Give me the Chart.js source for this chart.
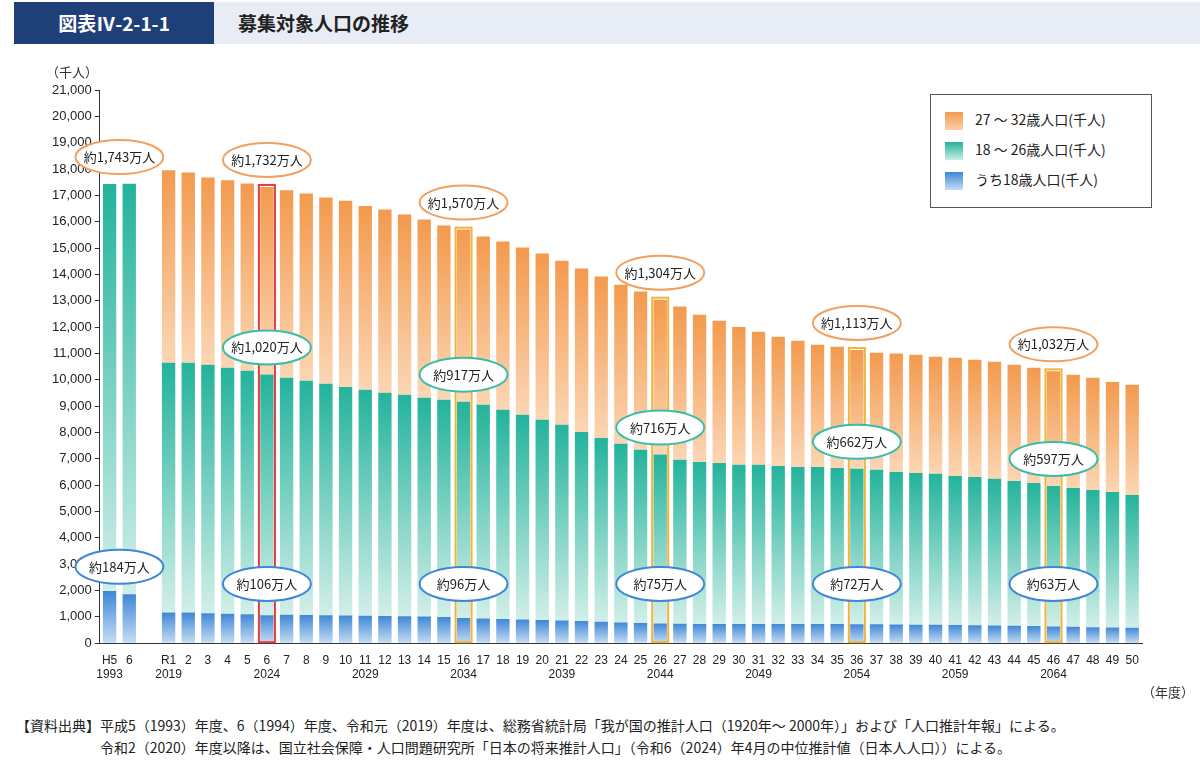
<!DOCTYPE html>
<html><head><meta charset="utf-8">
<script src="https://cdn.jsdelivr.net/npm/chart.js@4"></script>
<style>
body{margin:0;width:1200px;height:777px;background:#fff;font-family:"Noto Sans CJK JP","Noto Sans",sans-serif;position:relative;overflow:hidden}
#hdr{position:absolute;left:14px;top:2px;width:1186px;height:42px;background:#e8edf5}
#hdr .n{position:absolute;left:0;top:0;width:200px;height:42px;background:#1f3f78;color:#fff;font-weight:bold;font-size:19px;line-height:42px;text-align:center}
#hdr .t{position:absolute;left:224px;top:0;line-height:42px;font-size:19px;color:#222;font-weight:bold}
#wrap{position:absolute;left:0;top:60px;width:1200px;height:624px}
#unit{position:absolute;left:46px;top:62px;font-size:13px;color:#333}
#yr{position:absolute;left:1142px;top:682px;font-size:13px;color:#333}
#legend{position:absolute;left:930px;top:94px;width:220px;height:112px;border:1px solid #555;background:#fff;font-size:14px;color:#222}
#legend div{position:absolute;left:14px;height:20px;line-height:20px}
#legend span{display:inline-block;width:18px;height:18px;vertical-align:middle;margin-right:12px}
#foot{position:absolute;left:16px;top:714px;font-size:14px;color:#222;line-height:22px}
</style></head><body>
<div id="hdr"><div class="n">図表Ⅳ-2-1-1</div><div class="t">募集対象人口の推移</div></div>
<div id="wrap"><canvas id="c"></canvas></div>
<div id="unit">（千人）</div>
<div id="yr">（年度）</div>
<div id="legend">
<div style="top:14px"><span style="background:linear-gradient(#f39a4e,#fbd0a8)"></span>27 ～ 32歳人口(千人)</div>
<div style="top:44px"><span style="background:linear-gradient(#23b39b,#c9ece4)"></span>18 ～ 26歳人口(千人)</div>
<div style="top:74px"><span style="background:linear-gradient(#3f87d6,#c5ddf4)"></span>うち18歳人口(千人)</div>
</div>
<div id="foot">【資料出典】平成5（1993）年度、6（1994）年度、令和元（2019）年度は、総務省統計局「我が国の推計人口（1920年～ 2000年）」および「人口推計年報」による。<br>　　　　　　令和2（2020）年度以降は、国立社会保障・人口問題研究所「日本の将来推計人口」（令和6（2024）年4月の中位推計値（日本人人口））による。</div>
<script>
const categories = ['H5','6','','R1','2','3','4','5','6','7','8','9','10','11','12','13','14','15','16','17','18','19','20','21','22','23','24','25','26','27','28','29','30','31','32','33','34','35','36','37','38','39','40','41','42','43','44','45','46','47','48','49','50'];
const yearLabels = ['1993','','','2019','','','','','2024','','','','','2029','','','','','2034','','','','','2039','','','','','2044','','','','','2049','','','','','2054','','','','','2059','','','','','2064','','','',''];
const age27to32Total = [null,null,null,17950,17870,17680,17570,17450,17320,17190,17070,16920,16800,16600,16460,16270,16080,15860,15700,15440,15250,15020,14790,14520,14220,13920,13610,13350,13040,12780,12470,12240,12000,11820,11630,11480,11330,11250,11130,11030,11000,10950,10870,10840,10760,10680,10570,10460,10320,10190,10080,9920,9810];
const age18to26 = [17430,17440,null,10650,10650,10570,10460,10340,10200,10080,9960,9850,9730,9620,9510,9430,9320,9240,9170,9050,8860,8670,8480,8290,8020,7790,7570,7340,7160,6960,6880,6840,6770,6770,6730,6690,6690,6650,6620,6580,6500,6460,6430,6350,6310,6240,6160,6080,5970,5890,5820,5740,5630];
const age18 = [1980,1860,null,1170,1170,1140,1120,1100,1060,1080,1070,1060,1050,1040,1030,1020,1010,990,960,940,920,900,880,860,840,810,790,770,750,740,730,730,730,730,730,730,730,730,720,720,710,700,700,690,680,670,660,650,630,620,610,600,590];
const yTicks = [0,1000,2000,3000,4000,5000,6000,7000,8000,9000,10000,11000,12000,13000,14000,15000,16000,17000,18000,19000,20000,21000];
const topNotes = [[0.5,'約1,743万人',17430],[8,'約1,732万人',17320],[18,'約1,570万人',15700],[28,'約1,304万人',13040],[38,'約1,113万人',11130],[48,'約1,032万人',10320]];
const midNotes = [[8,'約1,020万人',10200],[18,'約917万人',9170],[28,'約716万人',7160],[38,'約662万人',6620],[48,'約597万人',5970]];
const lowNotes = [[0.5,'約184万人'],[8,'約106万人'],[18,'約96万人'],[28,'約75万人'],[38,'約72万人'],[48,'約63万人']];
const highlight = [[8,'#e83a3a'],[18,'#f0b43a'],[28,'#f0b43a'],[38,'#f0b43a'],[48,'#f0b43a']];

const green = age18to26.map((v,i)=>v==null?null:v-age18[i]);
const orange = age27to32Total.map((v,i)=>v==null?null:v-age18to26[i]);
function grad(top,bot,stackBase){
  return ctx=>{
    const ch=ctx.chart, y=ch.scales.y;
    if(!y||ctx.dataIndex==null) return top;
    const i=ctx.dataIndex, base=stackBase[i]||0, val=ctx.raw;
    if(val==null) return top;
    const y0=y.getPixelForValue(base), y1=y.getPixelForValue(base+val);
    if(!isFinite(y0)||!isFinite(y1)||y0===y1) return top;
    const g=ch.ctx.createLinearGradient(0,y1,0,y0);
    g.addColorStop(0,top);g.addColorStop(1,bot);return g;
  };
}
const baseZero=age18.map(()=>0);
const notes={id:'notes',afterDatasetsDraw(ch){
  const c=ch.ctx,x=ch.scales.x,y=ch.scales.y;
  const xp=i=>Number.isInteger(i)?x.getPixelForValue(i):(x.getPixelForValue(Math.floor(i))+x.getPixelForValue(Math.ceil(i)))/2;
  c.save();
  highlight.forEach(([i,col])=>{const px=xp(i);c.strokeStyle=col;c.lineWidth=2;c.strokeRect(px-8,y.getPixelForValue(age27to32Total[i])-2,16,y.getPixelForValue(0)-y.getPixelForValue(age27to32Total[i])+1);});
  function ell(px,py,t,col){c.beginPath();c.ellipse(px,py,44,17,0,0,Math.PI*2);c.fillStyle='#fff';c.fill();c.lineWidth=2;c.strokeStyle=col;c.stroke();c.fillStyle='#222';c.font='13px "Noto Sans CJK JP"';c.textAlign='center';c.textBaseline='middle';c.fillText(t,px,py);}
  topNotes.forEach(([i,t,v])=>ell(xp(i),y.getPixelForValue(v)-27,t,'#f0a060'));
  midNotes.forEach(([i,t,v])=>ell(xp(i),y.getPixelForValue(v)-27,t,'#3cbca6'));
  lowNotes.forEach(([i,t])=>ell(xp(i),y.getPixelForValue(i===0.5?2900:2250),t,'#3f87d6'));
  c.restore();
}};
new Chart(document.getElementById('c'),{type:'bar',
 data:{labels:categories.map((c,i)=>[c,yearLabels[i]]),datasets:[
  {label:'うち18歳',data:age18,backgroundColor:grad('#3f87d6','#c5ddf4',baseZero)},
  {label:'18-26',data:green,backgroundColor:grad('#23b39b','#d2efe9',age18)},
  {label:'27-32',data:orange,backgroundColor:grad('#f39a4e','#fbd6b4',age18to26)}]},
 options:{responsive:true,maintainAspectRatio:false,animation:false,
  layout:{padding:{left:49,right:58,top:30,bottom:0}},
  plugins:{legend:{display:false},tooltip:{enabled:false}},
  datasets:{bar:{barPercentage:0.68,categoryPercentage:1}},
  scales:{
   x:{stacked:true,grid:{display:false,drawTicks:true},border:{color:'#333'},ticks:{color:'#222',font:{size:12},maxRotation:0,autoSkip:false,padding:2}},
   y:{stacked:true,min:0,max:21000,afterBuildTicks:a=>{a.ticks=yTicks.map(v=>({value:v}));},
      grid:{drawOnChartArea:false,color:'#333',tickLength:5},border:{color:'#333'},
      ticks:{color:'#222',font:{size:13},callback:v=>v.toLocaleString('en-US')}}}},
 plugins:[notes]});
</script></body></html>
